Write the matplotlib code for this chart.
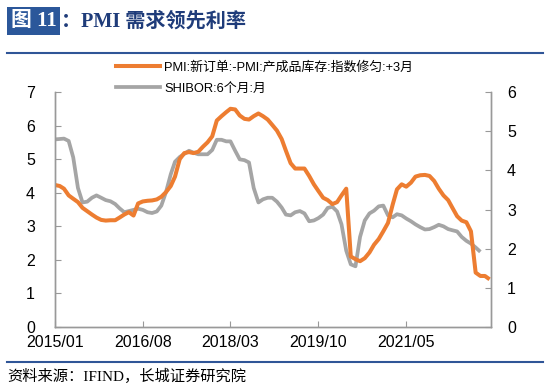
import matplotlib
matplotlib.use("Agg")
import matplotlib.pyplot as plt
import pandas as pd
from matplotlib.lines import Line2D
from matplotlib.patches import Rectangle

plt.rcParams['font.family'] = ['Liberation Sans', 'Noto Sans CJK SC', 'DejaVu Sans']

# ---- data ----
orange_label = "PMI:新订单:-PMI:产成品库存:指数修匀:+3月"
gray_label = "SHIBOR:6个月:月"

orange = [4.23, 4.20, 4.12, 3.92, 3.82, 3.72, 3.55, 3.45, 3.35, 3.26,
          3.19, 3.17, 3.18, 3.18, 3.26, 3.35, 3.42, 3.32, 3.68, 3.74,
          3.76, 3.77, 3.80, 3.88, 4.02, 4.20, 4.48, 5.00, 5.18, 5.21,
          5.18, 5.22, 5.37, 5.50, 5.68, 6.15, 6.28, 6.40, 6.50, 6.48,
          6.30, 6.20, 6.18, 6.28, 6.36, 6.28, 6.18, 6.02, 5.85, 5.60,
          5.25, 4.88, 4.72, 4.72, 4.72, 4.50, 4.25, 4.05, 3.85, 3.78,
          3.66, 3.72, 3.92, 4.12, 2.10, 2.02, 1.96, 2.05, 2.22, 2.45,
          2.62, 2.85, 3.10, 3.65, 4.10, 4.25, 4.18, 4.30, 4.48, 4.52,
          4.53, 4.50, 4.35, 4.12, 3.92, 3.78, 3.55, 3.30, 3.17, 3.12,
          2.85, 1.62, 1.52, 1.52, 1.42]

gray = [4.79, 4.80, 4.81, 4.75, 4.33, 3.55, 3.18, 3.20, 3.30, 3.36,
        3.30, 3.24, 3.21, 3.14, 3.03, 2.93, 2.96, 2.99, 3.02, 2.99,
        2.93, 2.91, 2.95, 3.10, 3.45, 3.90, 4.22, 4.34, 4.42, 4.50,
        4.45, 4.41, 4.41, 4.41, 4.52, 4.78, 4.78, 4.74, 4.74, 4.50,
        4.28, 4.26, 4.20, 3.55, 3.18, 3.26, 3.30, 3.30, 3.20, 3.05,
        2.87, 2.85, 2.93, 2.96, 2.90, 2.70, 2.72, 2.78, 2.87, 3.04,
        3.07, 2.95, 2.62, 1.95, 1.60, 1.55, 2.30, 2.72, 2.90, 2.97,
        3.08, 3.10, 2.85, 2.80, 2.88, 2.85, 2.77, 2.70, 2.62, 2.55,
        2.49, 2.50, 2.55, 2.61, 2.57, 2.50, 2.47, 2.44, 2.30, 2.20,
        2.13, 2.03, 1.92]

dates_orange = pd.date_range("2015-01-01", periods=len(orange), freq="MS")
dates_gray = pd.date_range("2015-01-01", periods=len(gray), freq="MS")
tick_dates = pd.to_datetime(["2015-01-01", "2016-08-01", "2018-03-01", "2019-10-01", "2021-05-01"])
tick_labels = ["2015/01", "2016/08", "2018/03", "2019/10", "2021/05"]
left_ticks = [0, 1, 2, 3, 4, 5, 6, 7]
right_ticks = [0, 1, 2, 3, 4, 5, 6]

ORANGE = "#ED7D31"
GRAY = "#A5A5A5"
BLUE = "#2F5597"
SPINE = "#999999"

W, H = 550, 390
fig = plt.figure(figsize=(W / 100, H / 100), dpi=100)

ax = fig.add_axes([55 / W, 1 - 327 / H, (491 - 55) / W, (327 - 92) / H])
ax2 = ax.twinx()

ax2.plot(dates_gray, gray, color=GRAY, lw=2.7, solid_capstyle='butt', solid_joinstyle='round')
ax.plot(dates_orange, orange, color=ORANGE, lw=2.9, solid_capstyle='butt', solid_joinstyle='round')
ax.set_zorder(ax2.get_zorder() + 1)
ax.patch.set_visible(False)

ax.set_xlim(pd.Timestamp("2015-01-01"), pd.Timestamp("2022-11-10"))
ax.set_ylim(0, 7)
ax2.set_ylim(0, 6)
ax.set_yticks(left_ticks)
ax2.set_yticks(right_ticks)
ax.set_xticks(tick_dates)
ax.set_xticklabels(tick_labels)

for a in (ax, ax2):
    a.spines['top'].set_visible(False)
    for s in ('left', 'right', 'bottom'):
        a.spines[s].set_color(SPINE)
        a.spines[s].set_linewidth(1.0)

ax.tick_params(axis='y', direction='in', length=4, color=SPINE, labelsize=11.5, pad=14.5)
ax.tick_params(axis='x', direction='in', length=4, color=SPINE, labelsize=11.5, pad=6)
ax2.tick_params(axis='y', direction='in', length=4, color=SPINE, labelsize=11.5, pad=11.5)

# legend
handles = [Line2D([], [], color=ORANGE, lw=2.9), Line2D([], [], color=GRAY, lw=2.7)]
fig.legend(handles, [orange_label, gray_label], loc='upper left',
           bbox_to_anchor=(116 / W, 1 - 61 / H), frameon=False,
           fontsize=9.3, handlelength=3.4, handletextpad=0.35,
           labelspacing=0.73, borderpad=0, borderaxespad=0)

# title
fig.add_artist(Rectangle((7 / W, 1 - 35 / H), 53 / W, 28 / H, transform=fig.transFigure,
                         facecolor="#2B579A", edgecolor='none'))
fig.text(33.5 / W, 1 - 21.5 / H, "图 11", color='white', fontsize=15, fontweight='bold',
         family=['Liberation Serif', 'Noto Sans CJK SC'], ha='center', va='center')
fig.text(61 / W, 1 - 21.5 / H, "：PMI 需求领先利率", color="#1F3C7A", fontsize=14.5, fontweight='bold',
         family=['Liberation Serif', 'Noto Sans CJK SC'], ha='left', va='center')

fig.add_artist(Line2D([7 / W, 543 / W], [1 - 53 / H] * 2, color=BLUE, lw=1.5, transform=fig.transFigure))
fig.add_artist(Line2D([7 / W, 543 / W], [1 - 362 / H] * 2, color=BLUE, lw=1.5, transform=fig.transFigure))

fig.text(7 / W, 1 - 376 / H, "资料来源：IFIND，长城证券研究院", color='black', fontsize=11,
         family=['Liberation Serif', 'Noto Sans CJK SC'], ha='left', va='center')

fig.savefig("out.png", dpi=100)
